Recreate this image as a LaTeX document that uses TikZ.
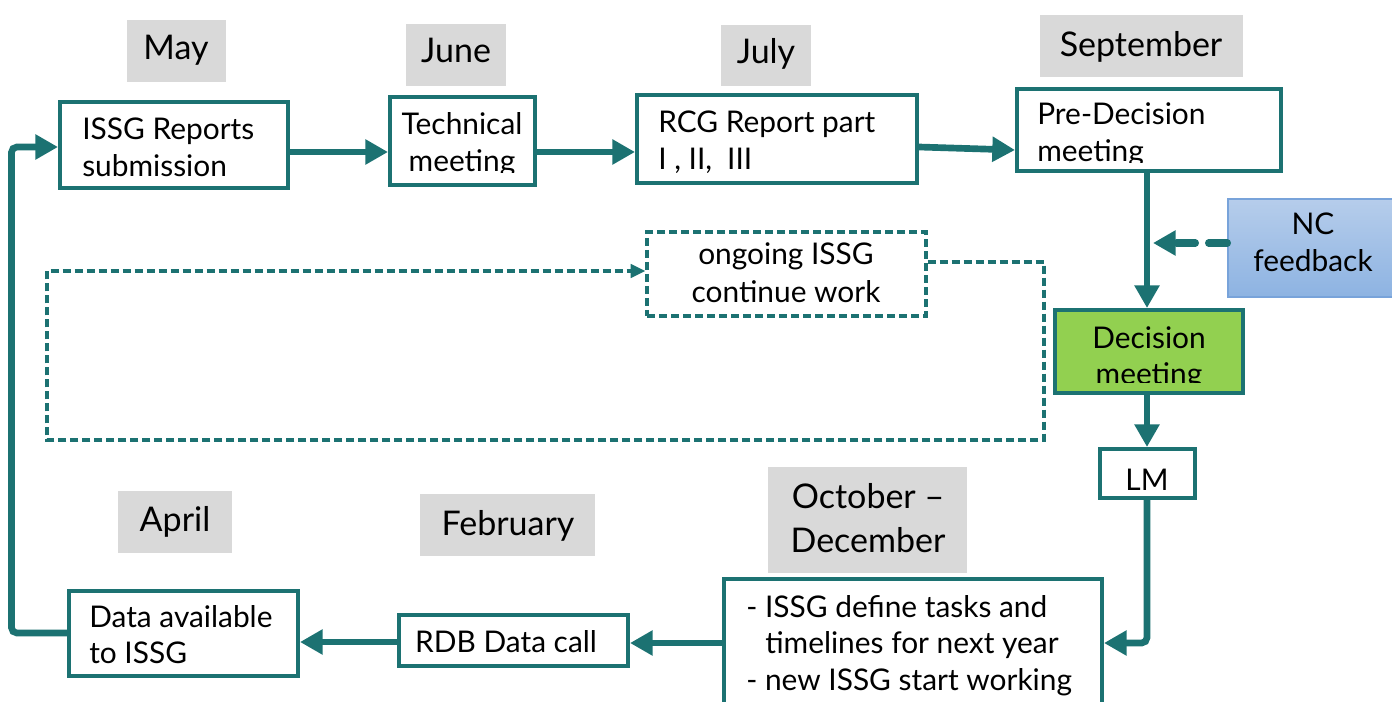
\documentclass[tikz,border=0pt]{standalone}
\usepackage{fontspec}
\setmainfont{Lato}
\usetikzlibrary{arrows.meta,fit}
\definecolor{tealc}{RGB}{28,114,114}
\definecolor{graybg}{RGB}{217,217,217}
\definecolor{greenf}{RGB}{146,208,80}
\definecolor{bluetop}{RGB}{182,205,235}
\definecolor{bluebot}{RGB}{141,179,226}
\definecolor{blueedge}{RGB}{120,163,218}
\tikzset{
  box/.style={draw=tealc, line width=3pt, fill=white, inner sep=0pt},
  monthbox/.style={fill=graybg, inner sep=0pt},
  txt/.style={inner sep=0pt, font=\fontsize{22.4}{26}\selectfont},
  mtxt/.style={inner sep=0pt, font=\fontsize{25.5}{30}\selectfont},
  conn/.style={draw=tealc, line width=5pt, -{Triangle[length=17pt,width=18pt]}},
  loopline/.style={draw=tealc, line width=2.4pt, dash pattern=on 6pt off 3pt},
  ncline/.style={draw=tealc, line width=5.5pt, line cap=round, dash pattern=on 14pt off 10pt, -{Triangle[length=17pt,width=18pt]}}
}
\begin{document}
\begin{tikzpicture}[x=0.75pt,y=-0.75pt]
\useasboundingbox (0,0) rectangle (1392,702);
% month labels
\node[monthbox, fit={(127,20) (226,82)}] (mmay) {};
\node[mtxt, anchor=base] (tmay) at (176,60) {May};
\node[monthbox, fit={(406,24) (506,86)}] (mjun) {};
\node[mtxt, anchor=base] (tjun) at (456,63) {June};
\node[monthbox, fit={(721,25) (811,86)}] (mjul) {};
\node[mtxt, anchor=base] (tjul) at (766,64) {July};
\node[monthbox, fit={(1040,15) (1243,77)}] (msep) {};
\node[mtxt, anchor=base] (tsep) at (1141,57) {September};
\node[monthbox, fit={(118,491) (232,553)}] (mapr) {};
\node[mtxt, anchor=base] (tapr) at (175,531) {April};
\node[monthbox, fit={(420,494) (595,556)}] (mfeb) {};
\node[mtxt, anchor=base] (tfeb) at (508,535) {February};
\node[monthbox, fit={(768,467) (967,573)}] (moct) {};
\node[mtxt, anchor=base] (toctA) at (868,508) {October –};
\node[mtxt, anchor=base] (toctB) at (868,552) {December};

% dashed loop (behind boxes)
\node[draw=tealc, line width=2.4pt, dash pattern=on 6pt off 3pt, fill=white, inner sep=0pt, fit={(647,232) (926,316)}] (ongo) {};
\node[txt, anchor=base] (ongoA) at (786,265) {ongoing ISSG};
\node[txt, anchor=base] (ongoB) at (786,303) {continue work};
\coordinate (lpA) at (1044,262);
\coordinate (lpB) at (1044,440);
\coordinate (lpC) at (47,440);
\coordinate (lpD) at (47,271);
\draw[loopline, -{Triangle[length=11pt,width=10pt]}] (ongo.east |- lpA) -- (lpA) -- (lpB) -- (lpC) -- (lpD) -- (ongo.west |- lpD);

% top row boxes
\node[box, fit={(60,102) (288,188)}] (issg) {};
\node[txt, anchor=base west] (issgA) at (82,140) {ISSG Reports};
\node[txt, anchor=base west] (issgB) at (82,177) {submission};

\node[box, fit={(390,97) (535,185)}] (tech) {};
\begin{scope}
\clip (392,99) rectangle (533,173);
\node[txt, anchor=base] (techA) at (462,135) {Technical};
\node[txt, anchor=base] (techB) at (462,172) {meeting};
\end{scope}

\node[box, fit={(637,95) (917,183)}] (rcg) {};
\node[txt, anchor=base west] (rcgA) at (658,133) {RCG Report part};
\node[txt, anchor=base west] (rcgB) at (658,170) {I , II,\hspace{0.5em}III};

\node[box, fit={(1017,89) (1281,171)}] (pre) {};
\begin{scope}
\clip (1019,91) rectangle (1279,163);
\node[txt, anchor=base west] (preA) at (1037,125) {Pre-Decision};
\node[txt, anchor=base west] (preB) at (1037,162) {meeting};
\end{scope}

% NC feedback
\node[draw=blueedge, line width=1pt, top color=bluetop, bottom color=bluebot, inner sep=0pt, fit={(1228,199) (1400,297)}] (nc) {};
\node[txt, anchor=base] (ncA) at (1313,235) {NC};
\node[txt, anchor=base] (ncB) at (1313,272) {feedback};

% Decision meeting
\node[box, fill=greenf, fit={(1055,310) (1243,393)}] (dec) {};
\begin{scope}
\clip (1057,312) rectangle (1241,382);
\node[txt, anchor=base] (decA) at (1149,348) {Decision};
\node[txt, anchor=base] (decB) at (1149,384) {meeting};
\end{scope}

% LM
\node[box, fit={(1100,449) (1195,498)}] (lm) {};
\node[txt, anchor=base] (lmT) at (1147,490) {LM};

% bottom row
\node[box, fit={(724,579) (1102,740)}] (oct) {};
\node[txt, anchor=base west] (octA) at (746,617) {- ISSG define tasks and};
\node[txt, anchor=base west] (octB) at (765,653) {timelines for next year};
\node[txt, anchor=base west] (octC) at (746,690) {- new ISSG start working};

\node[box, fit={(399,615) (628,666)}] (rdb) {};
\node[txt, anchor=base] (rdbT) at (506,652) {RDB Data call};

\node[box, fit={(69,591) (298,676)}] (data) {};
\node[txt, anchor=base west] (dataA) at (89,627) {Data available};
\node[txt, anchor=base west] (dataB) at (89,663) {to ISSG};

% connectors
\draw[conn] (issg.east |- 0,152) -- (tech.west |- 0,152);
\draw[conn] (tech.east |- 0,152) -- (rcg.west |- 0,152);
\draw[conn] (rcg.east |- 0,147) -- (pre.west |- 0,150);
\draw[conn] (pre.south -| 1147,0) -- (dec.north -| 1147,0);
\draw[ncline] (nc.west |- 0,243) -- (1153,243);
\draw[conn] (dec.south -| 1147,0) -- (lm.north -| 1147,0);
\coordinate (lmc) at (1147,643);
\draw[conn, rounded corners=4pt] (lm.south -| 1147,0) -- (lmc) -- (oct.east |- lmc);
\draw[conn] (oct.west |- 0,643) -- (rdb.east |- 0,643);
\draw[conn] (rdb.west |- 0,642) -- (data.east |- 0,642);
\coordinate (dlA) at (11.5,633);
\coordinate (dlB) at (11.5,147);
\draw[conn, rounded corners=4pt] (data.west |- dlA) -- (dlA) -- (dlB) -- (issg.west |- dlB);
\end{tikzpicture}
\end{document}
